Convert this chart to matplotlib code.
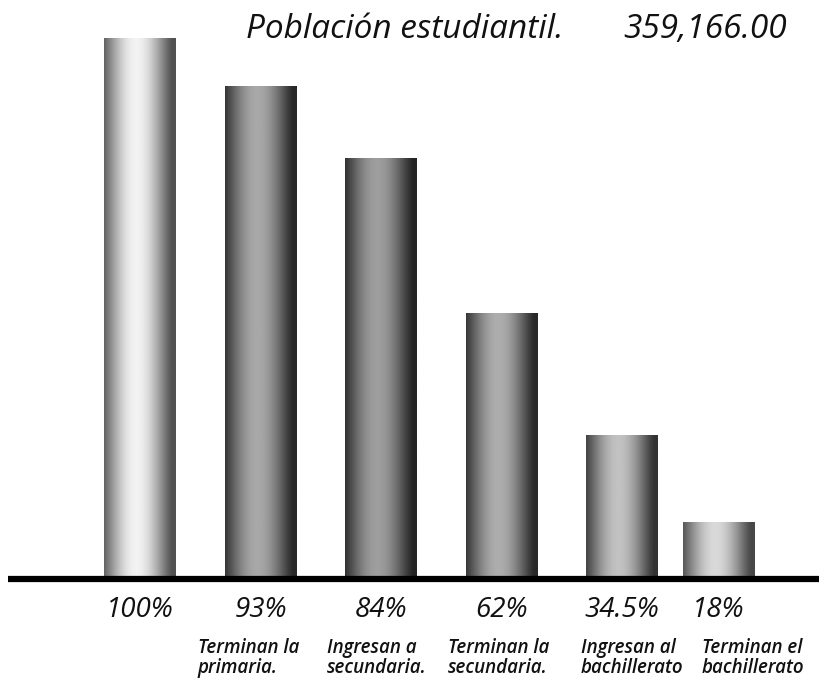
import matplotlib.pyplot as plt
import matplotlib.transforms as mtransforms
import numpy as np

# Bar heights (relative to the first bar = 100)
heights = [100, 91.1, 77.8, 49.0, 26.6, 10.5]
pct_labels = ['100%', '93%', '84%', '62%', '34.5%', '18%']
categories = ['', 'Terminan la\nprimaria.', 'Ingresan a\nsecundaria.',
              'Terminan la\nsecundaria.', 'Ingresan al\nbachillerato',
              'Terminan el\nbachillerato']
title_left = 'Población estudiantil.'
title_right = '359,166.00'

# layout
positions = [0, 1, 2, 3, 4, 4.8]
cat_x = [None, 0.481, 1.552, 2.556, 3.66, 4.664]
peaks = [0.95, 0.66, 0.62, 0.68, 0.76, 0.85]   # highlight brightness per bar
edges = [0.32, 0.16, 0.14, 0.16, 0.20, 0.28]

fig = plt.figure(figsize=(8.19, 6.8), dpi=100)
ax = fig.add_axes([0, 0.1485, 1, 0.7956])
ax.set_xlim(-1.162, 5.635)
ax.set_ylim(0, 100)
ax.axis('off')

bars = ax.bar(positions, heights, width=0.59, color='#777777', zorder=1)
ax.set_autoscale_on(False)

# cylindrical shading
u = np.linspace(0, 1, 200)
shape = np.clip(np.cos((u - 0.45) * np.pi * 1.0), 0, 1) ** 1.2
for b, pk, ed in zip(bars, peaks, edges):
    vals = ed + (pk - ed) * shape
    ax.imshow(vals[np.newaxis, :], cmap='gray', vmin=0, vmax=1, aspect='auto',
              extent=(b.get_x(), b.get_x() + b.get_width(), 0, b.get_height()),
              zorder=2, interpolation='bilinear')

# baseline
ax.plot([-1.095, 5.635], [0, 0], color='black', lw=4.5, solid_capstyle='butt',
        zorder=3, clip_on=False)

trans = mtransforms.blended_transform_factory(ax.transData, fig.transFigure)
for x, p in zip(positions, pct_labels):
    ax.text(x, 0.0926, p, transform=trans, ha='center', va='baseline',
            fontsize=20, style='italic', family='Open Sans', color='#111111')
for x, c in zip(cat_x, categories):
    if not c:
        continue
    first, second = c.split('\n')
    for y, line in ((0.0397, first), (0.0103, second)):
        ax.text(x, y, line, transform=trans, ha='left', va='baseline',
                fontsize=13.5, style='italic', fontweight='semibold',
                family='Open Sans', color='#111111')

fig.text(246 / 819, 0.944, title_left, ha='left', va='baseline', fontsize=24,
         style='italic', fontweight='medium', family='Open Sans', color='#111111')
fig.text(787 / 819, 0.944, title_right, ha='right', va='baseline', fontsize=24,
         style='italic', fontweight='medium', family='Open Sans', color='#111111')

fig.savefig('out.png', dpi=100, facecolor='white')
